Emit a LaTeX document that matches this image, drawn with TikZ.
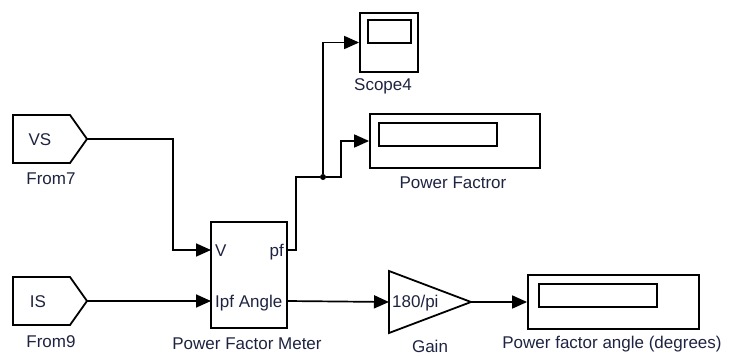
\documentclass[tikz,border=0pt]{standalone}
\usepackage{fontspec}
\setmainfont{Liberation Sans}
\usetikzlibrary{arrows.meta}

\definecolor{txt}{RGB}{30,35,65}

\begin{document}
\begin{tikzpicture}[x=1pt,y=-1pt,
  lbl/.style={inner sep=0pt, text height=12pt, text depth=0pt, text=txt,
    font=\fontsize{17}{18}\selectfont},
  blk/.style={draw, line width=1.8pt, inner sep=0pt},
  wire/.style={line width=1.7pt},
  sig/.style={wire, -{Triangle[length=15pt,width=13pt]}}]
  \useasboundingbox (0,0) rectangle (729,356);

  % from blocks
  \draw[blk] (13,115) -- (70,115) -- (87,139) -- (70,163) -- (13,163) -- cycle;
  \coordinate (from7) at (87,139);
  \node[lbl] (vs) at (40,139) {VS};
  \node[lbl] (from7lbl) at (51,178) {From7};
  \draw[blk] (13,277) -- (70,277) -- (87,301) -- (70,325) -- (13,325) -- cycle;
  \coordinate (from9) at (87,301);
  \node[lbl] (is) at (38,301) {IS};
  \node[lbl] (from9lbl) at (51,341.5) {From9};

  % power factor meter
  \node[blk, minimum width=76pt, minimum height=106pt] (pfm) at (249,275) {};
  \node[lbl, anchor=west] (pv) at (215,250) {V};
  \node[lbl, anchor=west] (pipf) at (215,301) {Ipf Angle};
  \node[lbl, anchor=east] (ppf) at (284,250) {pf};
  \node[lbl] (pfmlbl) at (247,343) {Power Factor Meter};
  \coordinate (pfmv) at (211,250);
  \coordinate (pfmi) at (211,301);
  \coordinate (pfmpf) at (287,250);
  \coordinate (pfma) at (287,301);

  % scope
  \node[blk, minimum width=58pt, minimum height=59pt] (scope) at (389,42.5) {};
  \node[blk, minimum width=43pt, minimum height=23pt] (scopewin) at (389.5,31.5) {};
  \node[lbl] (scopelbl) at (383,84) {Scope4};

  % displays
  \node[blk, minimum width=170pt, minimum height=54pt] (pfdisp) at (455,141) {};
  \node[blk, minimum width=118pt, minimum height=23pt] (pfwin) at (438,134.5) {};
  \node[lbl] (pfdisplbl) at (453,182.5) {Power Factror};
  \node[blk, minimum width=171pt, minimum height=54pt] (angdisp) at (613.5,302) {};
  \node[blk, minimum width=118pt, minimum height=23pt] (angwin) at (598,295.5) {};
  \node[lbl] (angdisplbl) at (612,342) {Power factor angle (degrees)};

  % gain
  \draw[blk] (389,271) -- (471,302) -- (389,333) -- cycle;
  \coordinate (gainin) at (389,302);
  \coordinate (gainout) at (471,302);
  \node[lbl, anchor=west] (gaink) at (392,301) {180/pi};
  \node[lbl] (gainlbl) at (430,346.5) {Gain};

  % junction
  \node[circle, fill, inner sep=0pt, minimum size=6pt] (jn) at (323,177) {};

  % signals
  \draw[sig] (from7) -- (173,139) |- (pfmv);
  \draw[sig] (from9) -- (pfmi);
  \draw[wire] (pfmpf) -- (296,250) |- (jn);
  \draw[sig] (jn) |- (scope.west);
  \draw[sig] (jn) -- (341,177) |- (pfdisp.west);
  \draw[sig] (pfma) -- (gainin);
  \draw[sig] (gainout) -- (angdisp.west);
\end{tikzpicture}
\end{document}
